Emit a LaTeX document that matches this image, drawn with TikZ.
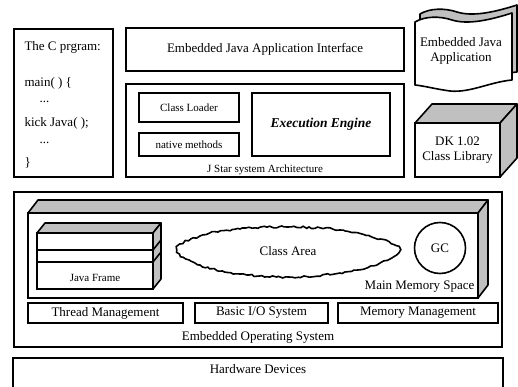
\documentclass[tikz,border=0pt]{standalone}
\usepackage{fontspec}
\setmainfont{Liberation Serif}
\usetikzlibrary{decorations.pathmorphing}
\definecolor{shade}{HTML}{C0C0C0}
\begin{document}
\begin{tikzpicture}[x=1pt,y=-1pt,
  box/.style={draw,line width=1.6pt,inner sep=0pt},
  big/.style={font=\fontsize{13}{15}\selectfont},
  small/.style={font=\fontsize{11}{13}\selectfont},
  solid3d/.style={draw,line width=1.6pt,line join=round},
  face/.style={solid3d,fill=shade}]
\useasboundingbox (0,0) rectangle (518,387);

% C program
\node[box,minimum width=99pt,minimum height=148pt] (cprog) at (63.5,103) {};
\node[big,anchor=west] (c1) at (21,47) {The C prgram:};
\node[big,anchor=west] (c2) at (21,83) {main( ) \{};
\node[big,anchor=west] (c3) at (36,102) {...};
\node[big,anchor=west] (c4) at (21,123) {kick Java( );};
\node[big,anchor=west] (c5) at (36,143) {...};
\node[big,anchor=west] (c6) at (21,163) {\}};

% API
\node[box,big,minimum width=278pt,minimum height=43pt] (api) at (265,49.5) {Embedded Java Application Interface};

% JStar
\node[box,minimum width=278pt,minimum height=93pt] (jstar) at (265,130.5) {};
\node[box,small,minimum width=100pt,minimum height=29pt] (loader) at (189,107.5) {Class Loader};
\node[box,small,minimum width=100pt,minimum height=23pt] (native) at (189,144.5) {native methods};
\node[draw,line width=2.4pt,inner sep=0pt,minimum width=138pt,minimum height=63pt,
      font=\fontsize{13.5}{15}\selectfont\bfseries\itshape] (engine) at (321,124.5) {Execution Engine};
\node[small] (jlabel) at (265,170) {J Star system Architecture};

% Embedded Java Application (banner)
\begin{scope}[shift={(5,-8)}]
\filldraw[face] (415,22) .. controls (425,16) and (440,16) .. (452,20)
  .. controls (468,25) and (490,20) .. (512,13) -- (512,80)
  .. controls (490,82) and (470,93) .. (450,91)
  .. controls (435,89) and (425,86) .. (415,85) -- cycle;
\end{scope}
\filldraw[solid3d,fill=white] (415,22) .. controls (425,16) and (440,16) .. (452,20)
  .. controls (468,25) and (490,20) .. (512,13) -- (512,80)
  .. controls (490,82) and (470,93) .. (450,91)
  .. controls (435,89) and (425,86) .. (415,85) -- cycle;
\node[big,align=center] (eja) at (461,51) {Embedded Java\\Application};

% DK box
\filldraw[face] (415,123) -- (432,104) -- (517,104) -- (500,123) -- cycle;
\filldraw[face] (500,123) -- (517,104) -- (517,158) -- (500,177) -- cycle;
\node[box,fill=white,minimum width=85pt,minimum height=54pt] (dk) at (457.5,150) {};
\node[big,align=center] (dktext) at (457.5,150) {DK 1.02\\Class Library};

% Embedded OS
\node[box,minimum width=488pt,minimum height=155pt] (os) at (258,269.5) {};
% Main memory 3D
\filldraw[face] (28,213) -- (38,200) -- (488,200) -- (478,213) -- cycle;
\filldraw[face] (478,213) -- (488,200) -- (488,285) -- (478,298) -- cycle;
\node[box,minimum width=450pt,minimum height=85pt] (mem) at (253,255.5) {};
\node[big,anchor=east] (memlabel) at (478,287) {Main Memory Space};

% Java frame stack
\filldraw[face] (37,233) -- (45,223) -- (161,223) -- (153,233) -- cycle;
\filldraw[face] (153,233) -- (161,223) -- (161,279) -- (153,289) -- cycle;
\draw[line width=1.6pt] (153,250) -- (161,240) (153,262) -- (161,252);
\node[box,minimum width=116pt,minimum height=56pt] (frame) at (95,261) {};
\draw[line width=1.6pt] (37,250) -- (153,250) (37,262) -- (153,262);
\node[small] (frametext) at (95,278) {Java Frame};

% Class area cloud
\pgfmathsetseed{7}
\draw[line width=1.6pt,decorate,decoration={random steps,segment length=3pt,amplitude=1pt}]
  plot[smooth cycle,tension=0.7] coordinates {(177,250) (200,236) (240,229) (288,227) (340,230) (380,239) (400,250) (380,263) (340,273) (288,277) (240,274) (200,265)};
\node[big] (classarea) at (288,251) {Class Area};

% GC
\node[draw,circle,line width=1.6pt,minimum size=51pt,inner sep=0pt,big] (gc) at (440,248) {GC};

% OS services
\node[box,big,minimum width=155pt,minimum height=20pt] (thread) at (105.5,313) {Thread Management};
\node[box,big,minimum width=133pt,minimum height=20pt] (bio) at (261.5,313) {Basic I/O System};
\node[box,big,minimum width=160pt,minimum height=20pt] (mm) at (418,313) {Memory Management};
\node[big] (oslabel) at (258,337) {Embedded Operating System};

% Hardware
\node[box,minimum width=490pt,minimum height=40pt] (hw) at (258,378) {};
\node[big] (hwtext) at (258,369) {Hardware Devices};
\end{tikzpicture}
\end{document}
